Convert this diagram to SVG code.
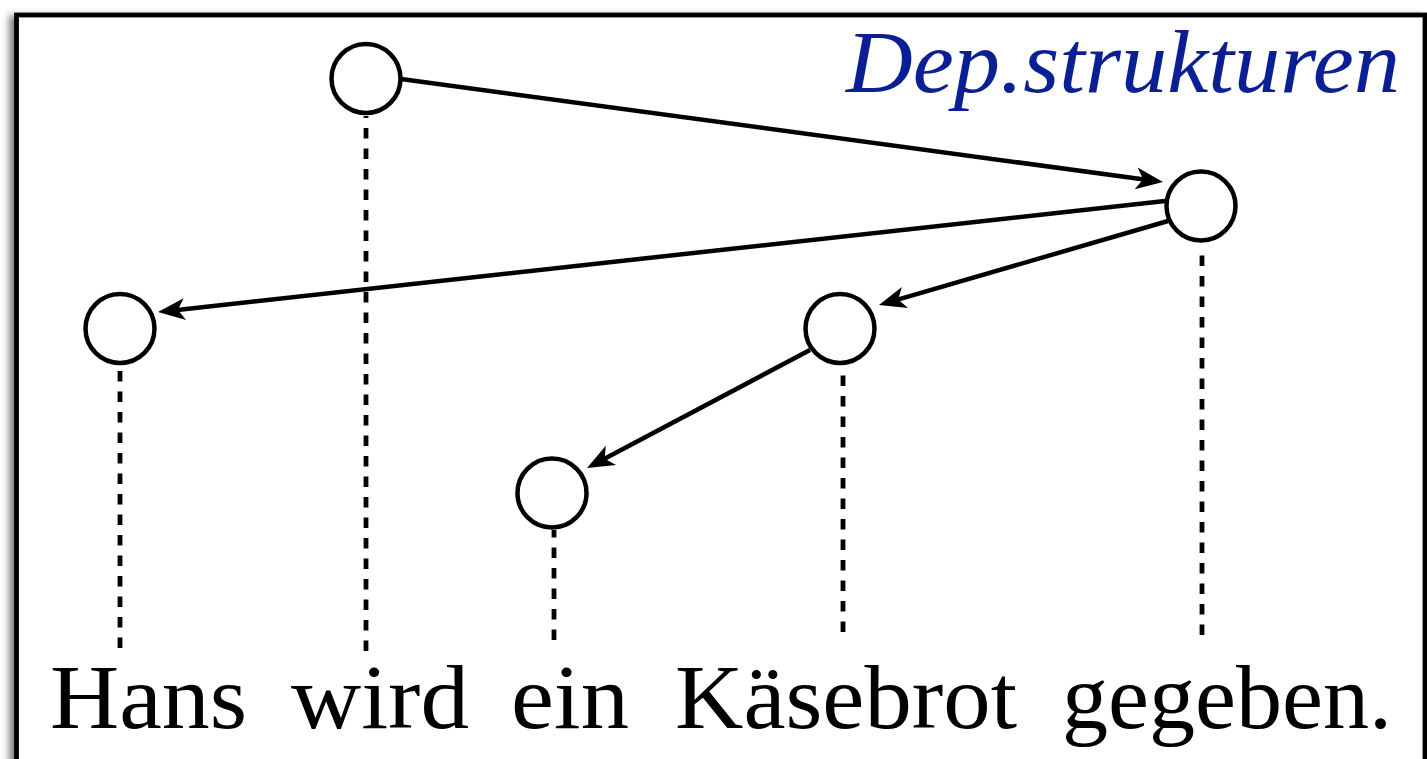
<svg xmlns="http://www.w3.org/2000/svg" width="1427" height="759" viewBox="0 0 1427 759">
  <defs>
    <filter id="shadow" x="-5%" y="-5%" width="110%" height="110%">
      <feDropShadow dx="-5" dy="3" stdDeviation="3.5" flood-color="#000" flood-opacity="0.5"/>
    </filter>
    <marker id="arrow" markerUnits="userSpaceOnUse" viewBox="-28 -12 44 24" markerWidth="44" markerHeight="24" refX="-15" refY="0" orient="auto" overflow="visible">
      <path d="M0,0 L-27,-11 L-20,0 L-27,11 Z" fill="#000"/>
    </marker>
    <style>
      .node { fill: #fff; stroke: #000; stroke-width: 4.5; }
      .edge { fill: none; stroke: #000; stroke-width: 4.5; marker-end: url(#arrow); }
      .proj { fill: none; stroke: #000; stroke-width: 4.8; stroke-dasharray: 10.5 10; }
      .serif { font-family: 'Liberation Serif', 'Times New Roman', 'DejaVu Serif', serif; }
    </style>
  </defs>
  <rect width="1427" height="759" fill="#fff"/>
  <rect x="16.5" y="15" width="1408.5" height="800" fill="#fff" stroke="#000" stroke-width="4.8" filter="url(#shadow)"/>

  <text class="serif" x="846" y="92" font-style="italic" font-size="88" fill="#0b1f94" textLength="554" lengthAdjust="spacingAndGlyphs">Dep.strukturen</text>

  <g id="projections">
    <line class="proj" x1="120" y1="648" x2="120" y2="366"/>
    <line class="proj" x1="366" y1="651" x2="366" y2="116"/>
    <line class="proj" x1="554" y1="640" x2="554" y2="530"/>
    <line class="proj" x1="843" y1="632" x2="843" y2="366"/>
    <line class="proj" x1="1202" y1="635" x2="1202" y2="247"/>
  </g>

  <g id="connectors">
    <line class="edge" x1="401" y1="79" x2="1148.1" y2="180"/>
    <line class="edge" x1="1165" y1="201" x2="172.9" y2="310.4"/>
    <line class="edge" x1="1168" y1="221" x2="893.4" y2="300.9"/>
    <line class="edge" x1="810" y1="350" x2="600.3" y2="461"/>
  </g>

  <g id="node-wird"><circle class="node" cx="366" cy="78.5" r="34.5"/></g>
  <g id="node-gegeben"><circle class="node" cx="1201" cy="206" r="34.5"/></g>
  <g id="node-hans"><circle class="node" cx="120" cy="328.5" r="34.5"/></g>
  <g id="node-kaesebrot"><circle class="node" cx="840" cy="328.5" r="34.5"/></g>
  <g id="node-ein"><circle class="node" cx="552" cy="493" r="34.5"/></g>

  <g id="words" class="serif" font-size="92" fill="#000">
    <text x="50" y="728" textLength="197" lengthAdjust="spacingAndGlyphs">Hans</text>
    <text x="291" y="728" textLength="178" lengthAdjust="spacingAndGlyphs">wird</text>
    <text x="511" y="728" textLength="118" lengthAdjust="spacingAndGlyphs">ein</text>
    <text x="675" y="728" textLength="342" lengthAdjust="spacingAndGlyphs">Käsebrot</text>
    <text x="1062" y="728" textLength="330" lengthAdjust="spacingAndGlyphs">gegeben.</text>
  </g>
</svg>
